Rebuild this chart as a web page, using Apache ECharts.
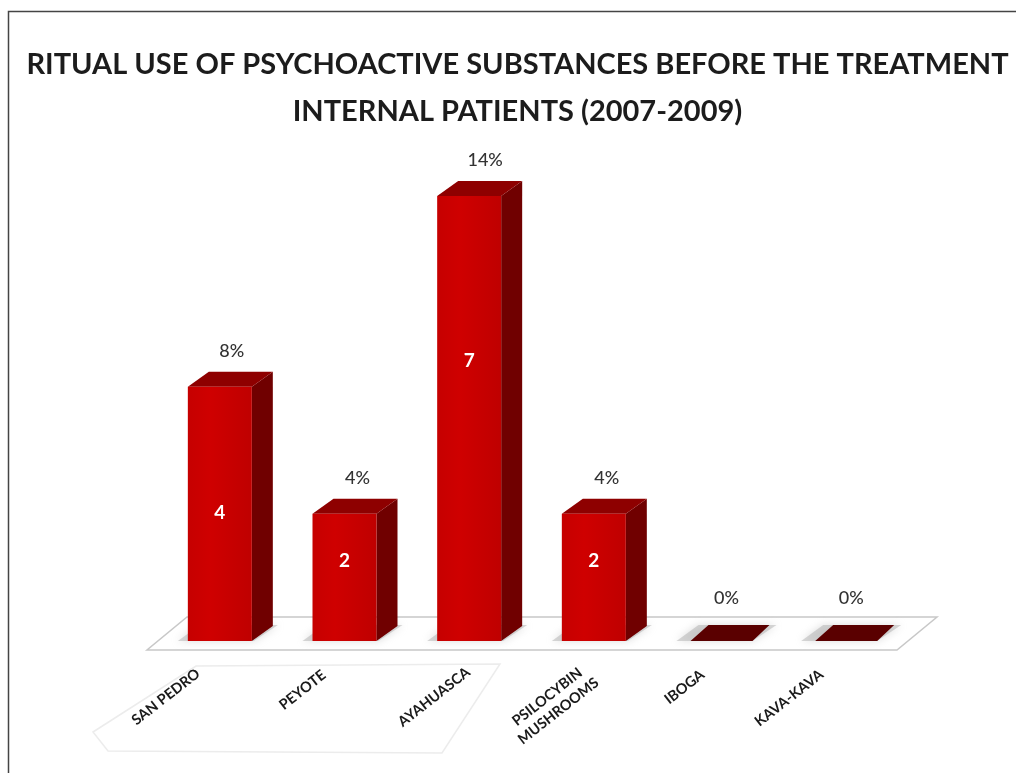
<!DOCTYPE html>
<html>
<head>
<meta charset="utf-8">
<style>html,body{margin:0;padding:0;background:#fff}#chart{width:1016px;height:773px}</style>
<script src="https://cdn.jsdelivr.net/npm/echarts@6/dist/echarts.min.js"></script>
</head>
<body>
<div id="chart"></div>
<script>
const categories = ['SAN PEDRO', 'PEYOTE', 'AYAHUASCA', 'PSILOCYBIN\nMUSHROOMS', 'IBOGA', 'KAVA-KAVA'];
const patients = [4, 2, 7, 2, 0, 0];
const percents = ['8%', '4%', '14%', '4%', '0%', '0%'];

// Per-bar placement of the text around each column
const innerLabelRise = [0.505, 0.63, 0.63, 0.63, 0, 0];
const percentShift = [12, 13, 16, 13, 8, 8];
const categoryShift = [[-54, 56], [-42, 49], [-35, 56], [-41, 63], [-34, 46], [-54, 57]];

const FACE_W = 64, DEPTH_X = 21, DEPTH_Y = 15;
const font = 'Lato, "Open Sans", sans-serif';

function renderColumn(params, api) {
  const i = api.value(0);
  const v = api.value(1);
  const base = api.coord([i, 0]);
  const top = api.coord([i, v]);
  const x0 = base[0] - FACE_W / 2;
  const x1 = base[0] + FACE_W / 2;
  const yb = base[1];
  const yt = top[1];
  const children = [];

  // soft shadow on the floor
  children.push({
    type: 'polygon',
    shape: {points: [[x0 - 10, yb], [x1 + 2, yb], [x1 + 26, yb - 16], [x0 + 12, yb - 16]]},
    style: {fill: 'rgba(175,175,175,0.5)', shadowBlur: 8, shadowColor: 'rgba(170,170,170,0.8)'}
  });

  if (v > 0) {
    children.push({
      type: 'polygon',
      shape: {points: [[x1, yb], [x1 + DEPTH_X, yb - DEPTH_Y], [x1 + DEPTH_X, yt - DEPTH_Y], [x1, yt]]},
      style: {fill: '#700000'}
    });
    children.push({
      type: 'polygon',
      shape: {points: [[x0, yt], [x1, yt], [x1 + DEPTH_X, yt - DEPTH_Y], [x0 + DEPTH_X, yt - DEPTH_Y]]},
      style: {fill: '#8e0000'}
    });
    children.push({
      type: 'rect',
      shape: {x: x0, y: yt, width: FACE_W, height: yb - yt},
      style: {
        fill: {type: 'linear', x: 0, y: 0, x2: 1, y2: 0, colorStops: [
          {offset: 0, color: '#c60000'}, {offset: 0.35, color: '#cf0000'}, {offset: 1, color: '#bf0000'}
        ]}
      }
    });
    children.push({
      type: 'text',
      style: {
        x: base[0], y: yb - (yb - yt) * innerLabelRise[i],
        text: String(v), fill: '#fff', font: 'bold 19px ' + font,
        align: 'center', verticalAlign: 'middle'
      }
    });
  } else {
    children.push({
      type: 'polygon',
      shape: {points: [[x0 + 4, yb], [x1 + 2, yb], [x1 + 19, yb - 16], [x0 + 22, yb - 16]]},
      style: {fill: '#5a0000'}
    });
  }

  // percentage above the column
  children.push({
    type: 'text',
    style: {
      x: base[0] + percentShift[i], y: v > 0 ? yt - 36 : yb - 43,
      text: percents[i], fill: '#333333', font: '500 18px ' + font,
      align: 'center', verticalAlign: 'middle'
    }
  });

  // slanted category name
  children.push({
    type: 'text',
    x: base[0] + categoryShift[i][0],
    y: yb + categoryShift[i][1],
    rotation: 38 * Math.PI / 180,
    style: {
      text: categories[i], fill: '#1a1a1a', font: 'bold 14.5px ' + font,
      align: 'center', verticalAlign: 'middle', lineHeight: 18
    }
  });
  return {type: 'group', children};
}

const chart = echarts.init(document.getElementById('chart'), null, {renderer: 'canvas'});
chart.setOption({
  animation: false,
  backgroundColor: '#fff',
  title: {
    text: 'RITUAL USE OF PSYCHOACTIVE SUBSTANCES BEFORE THE TREATMENT\nINTERNAL PATIENTS (2007-2009)',
    left: 512.5, top: 36, textAlign: 'center',
    textStyle: {fontFamily: font, fontWeight: 'bold', fontSize: 29, lineHeight: 47, color: '#1c1c1c'}
  },
  grid: {left: 157.5, top: 196, width: 748, height: 445},
  xAxis: {type: 'category', data: categories, axisLine: {show: false}, axisTick: {show: false}, axisLabel: {show: false}},
  yAxis: {type: 'value', min: 0, max: 7, show: false, splitLine: {show: false}},
  graphic: [
    {type: 'polyline', silent: true, z: -1, shape: {points: [[8.5, 773], [8.5, 11.5], [1016, 11.5]]}, style: {stroke: '#444', lineWidth: 1.5, fill: 'none'}},
    {type: 'polygon', silent: true, z: -1, shape: {points: [[147, 650], [897, 650], [937, 617], [187, 617]]}, style: {stroke: '#c8c8c8', lineWidth: 1.5, fill: '#fff'}},
    {type: 'polygon', silent: true, z: -1, shape: {points: [[93, 732], [196, 666], [500, 664], [442, 753], [108, 751]]}, style: {stroke: '#ececec', lineWidth: 1.5, fill: '#fff'}}
  ],
  series: [{
    type: 'custom',
    renderItem: renderColumn,
    data: patients.map((v, i) => [i, v]),
    encode: {x: 0, y: 1},
    clip: false
  }]
});
</script>
</body>
</html>
